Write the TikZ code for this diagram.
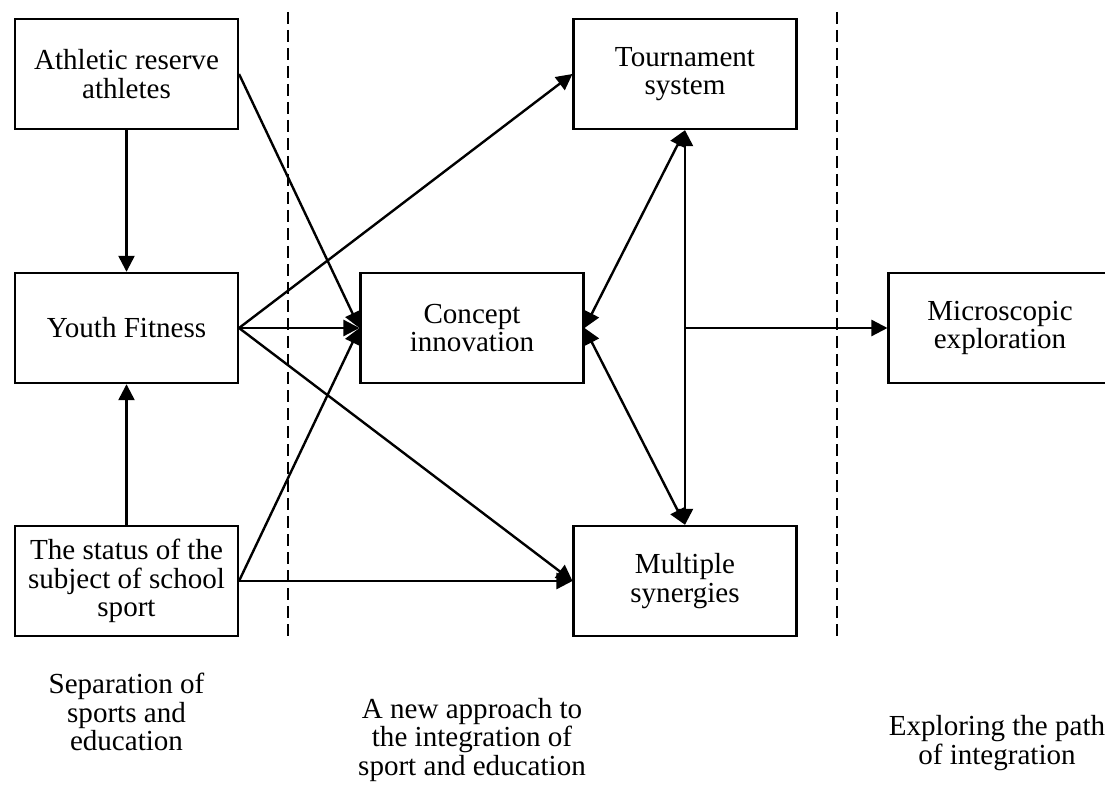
\documentclass[tikz,border=0pt]{standalone}
\usepackage{fontspec}
\setmainfont{Liberation Serif}
\usetikzlibrary{arrows.meta}

\tikzset{
  stagebox/.style={draw, line width=1.8pt, minimum width=167pt, minimum height=82.5pt,
    align=center, inner sep=2pt, font=\fontsize{21.8pt}{21.4pt}\selectfont},
  caption/.style={align=center, inner sep=0pt, font=\fontsize{21.8pt}{21.4pt}\selectfont},
  link/.style={line width=1.8pt, -{Triangle[length=12pt,width=12pt]}},
  twoway/.style={line width=1.8pt, {Triangle[length=12pt,width=12pt]}-{Triangle[length=12pt,width=12pt]}},
  divider/.style={line width=1.8pt, dash pattern=on 9pt off 4.5pt}
}

\begin{document}
\begin{tikzpicture}[x=0.75pt, y=-0.75pt]
  \useasboundingbox (0,0) rectangle (1105,787);

  % stages
  \draw[divider] (288,12) -- (288,638);
  \draw[divider] (837,12) -- (837,638);

  % boxes
  \node[stagebox] (athl) at (126.5,74) {Athletic reserve\\athletes};
  \node[stagebox] (youth) at (126.5,328) {Youth Fitness};
  \node[stagebox] (status) at (126.5,581) {The status of the\\subject of school\\sport};
  \node[stagebox] (concept) at (472,328) {Concept\\innovation};
  \node[stagebox] (tour) at (685,74) {Tournament\\system};
  \node[stagebox] (multi) at (685,581) {Multiple\\synergies};
  \node[stagebox] (micro) at (1000,328) {Microscopic\\exploration};
  \coordinate (split) at (685,328);

  % captions
  \node[caption] (sepcap) at (126.5,712) {Separation of\\sports and\\education};
  \node[caption] (newcap) at (472,740) {A new approach to\\the integration of\\sport and education};
  \node[caption] (pathcap) at (997,743) {Exploring the path\\of integration};

  % arrows
  \draw[link] (athl) -- (youth);
  \draw[link] (status) -- (youth);
  \draw[link] (athl.east) -- (concept.west);
  \draw[link] (youth.east) -- (tour.west);
  \draw[link] (youth.east) -- (concept.west);
  \draw[link] (youth.east) -- (multi.west);
  \draw[link] (status.east) -- (concept.west);
  \draw[link] (status.east) -- (multi.west);
  \draw[twoway] (concept.east) -- (tour.south);
  \draw[twoway] (concept.east) -- (multi.north);
  \draw[twoway] (tour.south) -- (multi.north);
  \draw[link] (split) -- (micro.west);
\end{tikzpicture}
\end{document}
